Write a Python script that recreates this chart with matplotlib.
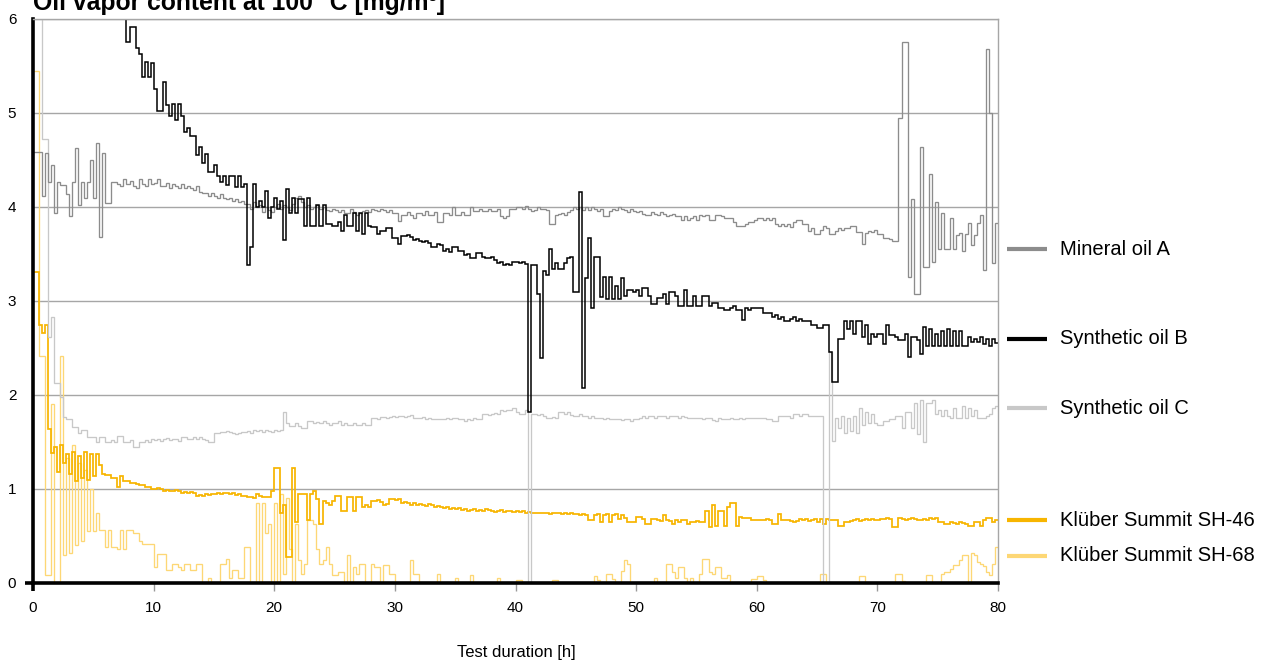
import numpy as np
import matplotlib
matplotlib.use('Agg')
import matplotlib.pyplot as plt

plt.rcParams['font.family'] = ['Liberation Sans', 'DejaVu Sans']

# readings every 0.25 h, 0..80 h (one row = 5 h)
step_h = 0.25

mineral_a = [
    4.58, 4.58, 4.58, 4.12, 4.57, 4.27, 4.45, 3.94, 4.27, 4.23, 4.23, 4.14, 3.90, 4.27, 4.63, 4.02, 4.27, 4.10, 4.27, 4.50,
    4.10, 4.68, 3.68, 4.57, 4.04, 4.04, 4.27, 4.27, 4.25, 4.22, 4.30, 4.25, 4.28, 4.22, 4.20, 4.30, 4.24, 4.22, 4.30, 4.24,
    4.26, 4.30, 4.22, 4.22, 4.26, 4.20, 4.25, 4.22, 4.20, 4.24, 4.20, 4.22, 4.20, 4.18, 4.22, 4.16, 4.15, 4.15, 4.12, 4.15,
    4.12, 4.10, 4.14, 4.10, 4.08, 4.10, 4.06, 4.08, 4.05, 4.06, 4.03, 4.03, 3.98, 4.05, 4.00, 4.02, 3.95, 4.00, 3.97, 3.95,
    4.00, 4.03, 3.98, 4.02, 4.00, 3.97, 4.03, 4.10, 4.12, 4.05, 4.00, 4.02, 3.98, 4.00, 4.02, 3.98, 4.00, 3.97, 3.96, 3.98,
    3.97, 3.95, 3.97, 3.94, 3.94, 3.98, 3.95, 3.92, 3.94, 3.96, 3.97, 3.95, 3.98, 3.97, 3.96, 3.98, 3.97, 3.95, 3.97, 3.94,
    3.94, 3.85, 3.92, 3.92, 3.95, 3.92, 3.88, 3.94, 3.94, 3.92, 3.96, 3.92, 3.92, 3.95, 3.84, 3.84, 3.94, 3.94, 3.92, 4.00,
    3.92, 3.92, 3.95, 3.92, 3.92, 4.00, 3.96, 3.96, 3.98, 3.96, 3.96, 3.98, 3.96, 3.96, 3.98, 3.90, 3.88, 3.90, 3.98, 3.98,
    4.00, 4.00, 3.98, 4.01, 3.98, 3.96, 3.97, 4.00, 3.98, 3.98, 3.97, 3.82, 3.82, 3.92, 3.93, 3.94, 3.92, 3.95, 3.97, 4.00,
    3.98, 4.00, 3.97, 4.00, 3.97, 4.00, 3.98, 3.96, 3.98, 3.90, 3.90, 3.96, 3.98, 3.97, 4.00, 3.98, 3.97, 3.95, 3.98, 3.96,
    3.95, 3.96, 3.93, 3.92, 3.92, 3.95, 3.93, 3.92, 3.95, 3.93, 3.90, 3.92, 3.93, 3.90, 3.90, 3.86, 3.90, 3.86, 3.88, 3.90,
    3.86, 3.92, 3.90, 3.92, 3.86, 3.86, 3.92, 3.92, 3.90, 3.88, 3.88, 3.88, 3.84, 3.80, 3.80, 3.80, 3.82, 3.84, 3.84, 3.86,
    3.88, 3.88, 3.86, 3.88, 3.86, 3.88, 3.82, 3.80, 3.82, 3.80, 3.82, 3.79, 3.84, 3.86, 3.86, 3.82, 3.82, 3.75, 3.78, 3.71,
    3.71, 3.76, 3.80, 3.78, 3.71, 3.71, 3.75, 3.78, 3.76, 3.78, 3.78, 3.80, 3.80, 3.73, 3.73, 3.61, 3.72, 3.75, 3.73, 3.76,
    3.71, 3.71, 3.67, 3.67, 3.66, 3.64, 3.64, 4.95, 5.76, 5.76, 3.26, 4.08, 3.07, 3.07, 4.64, 3.36, 3.36, 4.35, 3.42, 4.05,
    3.55, 3.94, 3.55, 3.55, 3.88, 3.55, 3.70, 3.72, 3.53, 3.71, 3.83, 3.60, 3.70, 3.83, 3.92, 3.33, 5.68, 5.00, 3.40, 3.83,
]

synthetic_b = [
    6.50, 6.50, 6.50, 6.50, 6.50, 6.50, 6.50, 6.50, 6.50, 6.50, 6.50, 6.50, 6.50, 6.50, 6.50, 6.50, 6.50, 6.50, 6.50, 6.50,
    6.50, 6.50, 6.50, 6.50, 6.50, 6.50, 6.50, 6.50, 6.50, 6.50, 6.50, 5.76, 5.91, 5.91, 5.69, 5.63, 5.38, 5.54, 5.38, 5.53,
    5.26, 5.02, 5.02, 5.33, 5.09, 4.97, 5.10, 4.93, 5.10, 4.97, 4.80, 4.84, 4.76, 4.76, 4.55, 4.64, 4.47, 4.56, 4.37, 4.37,
    4.45, 4.33, 4.27, 4.33, 4.23, 4.33, 4.33, 4.21, 4.33, 4.21, 4.25, 3.38, 3.57, 4.25, 4.00, 4.06, 4.00, 4.17, 3.88, 4.00,
    4.10, 3.98, 4.06, 3.65, 4.19, 3.94, 4.10, 3.94, 4.08, 4.08, 3.80, 4.10, 3.80, 3.80, 4.02, 3.80, 4.02, 3.82, 3.82, 3.80,
    3.80, 3.84, 3.75, 3.92, 3.80, 3.80, 3.94, 3.75, 3.94, 3.71, 3.94, 3.80, 3.79, 3.79, 3.71, 3.75, 3.75, 3.78, 3.78, 3.67,
    3.67, 3.61, 3.69, 3.69, 3.70, 3.68, 3.65, 3.66, 3.64, 3.63, 3.64, 3.62, 3.57, 3.57, 3.61, 3.60, 3.53, 3.55, 3.52, 3.57,
    3.57, 3.53, 3.53, 3.49, 3.50, 3.46, 3.46, 3.51, 3.51, 3.47, 3.46, 3.46, 3.47, 3.44, 3.40, 3.41, 3.38, 3.39, 3.38, 3.42,
    3.42, 3.40, 3.41, 3.39, 1.82, 3.38, 3.38, 3.07, 2.39, 3.32, 3.28, 3.55, 3.34, 3.40, 3.34, 3.34, 3.40, 3.46, 3.47, 3.10,
    3.10, 4.16, 2.07, 3.24, 3.67, 2.93, 3.47, 3.47, 3.04, 3.26, 3.02, 3.26, 3.02, 3.16, 3.02, 3.24, 3.05, 3.12, 3.12, 3.10,
    3.12, 3.05, 3.14, 3.14, 3.05, 2.97, 2.97, 3.03, 3.03, 3.07, 2.97, 3.10, 3.10, 3.05, 2.95, 2.95, 3.12, 2.95, 2.95, 3.05,
    2.95, 2.95, 3.05, 3.05, 2.95, 2.98, 2.98, 2.93, 2.93, 2.90, 2.90, 2.93, 2.95, 2.90, 2.90, 2.80, 2.93, 2.90, 2.93, 2.93,
    2.93, 2.93, 2.87, 2.87, 2.87, 2.83, 2.85, 2.81, 2.83, 2.79, 2.79, 2.81, 2.83, 2.79, 2.81, 2.79, 2.79, 2.79, 2.75, 2.75,
    2.71, 2.71, 2.75, 2.74, 2.46, 2.14, 2.14, 2.60, 2.60, 2.79, 2.70, 2.79, 2.65, 2.79, 2.79, 2.62, 2.75, 2.54, 2.65, 2.62,
    2.65, 2.65, 2.54, 2.74, 2.64, 2.64, 2.62, 2.58, 2.58, 2.65, 2.40, 2.62, 2.62, 2.58, 2.44, 2.72, 2.52, 2.70, 2.52, 2.65,
    2.52, 2.68, 2.52, 2.70, 2.52, 2.68, 2.52, 2.68, 2.52, 2.52, 2.62, 2.56, 2.60, 2.56, 2.62, 2.54, 2.60, 2.52, 2.60, 2.55,
]

synthetic_c = [
    6.50, 6.50, 6.50, 4.72, 4.72, 2.62, 2.83, 2.13, 2.13, 1.98, 1.77, 1.75, 1.75, 1.66, 1.66, 1.60, 1.63, 1.63, 1.55, 1.55,
    1.55, 1.50, 1.55, 1.55, 1.50, 1.50, 1.52, 1.50, 1.56, 1.56, 1.50, 1.50, 1.52, 1.45, 1.45, 1.50, 1.50, 1.52, 1.50, 1.53,
    1.52, 1.53, 1.51, 1.53, 1.54, 1.52, 1.53, 1.53, 1.51, 1.55, 1.55, 1.53, 1.53, 1.55, 1.53, 1.55, 1.53, 1.52, 1.50, 1.50,
    1.60, 1.60, 1.61, 1.61, 1.62, 1.61, 1.60, 1.58, 1.60, 1.61, 1.61, 1.62, 1.60, 1.63, 1.62, 1.63, 1.61, 1.63, 1.62, 1.61,
    1.63, 1.62, 1.63, 1.82, 1.70, 1.67, 1.67, 1.70, 1.67, 1.65, 1.65, 1.72, 1.72, 1.70, 1.71, 1.70, 1.72, 1.70, 1.68, 1.70,
    1.70, 1.72, 1.68, 1.70, 1.68, 1.68, 1.70, 1.68, 1.68, 1.70, 1.68, 1.68, 1.76, 1.76, 1.75, 1.77, 1.77, 1.76, 1.77, 1.78,
    1.77, 1.78, 1.78, 1.77, 1.78, 1.79, 1.76, 1.76, 1.76, 1.77, 1.75, 1.76, 1.74, 1.74, 1.75, 1.74, 1.74, 1.76, 1.74, 1.76,
    1.76, 1.75, 1.74, 1.72, 1.74, 1.73, 1.76, 1.74, 1.74, 1.80, 1.80, 1.79, 1.80, 1.81, 1.80, 1.84, 1.83, 1.84, 1.84, 1.86,
    1.82, 1.80, 1.80, 1.84, 0.00, 1.80, 1.80, 1.79, 1.80, 1.78, 1.76, 1.76, 1.77, 1.76, 1.82, 1.82, 1.80, 1.82, 1.79, 1.78,
    1.78, 1.80, 1.78, 1.78, 1.76, 1.78, 1.76, 1.76, 1.76, 1.75, 1.76, 1.74, 1.74, 1.74, 1.74, 1.73, 1.74, 1.74, 1.72, 1.74,
    1.74, 1.76, 1.78, 1.76, 1.78, 1.78, 1.76, 1.78, 1.78, 1.78, 1.76, 1.78, 1.78, 1.78, 1.76, 1.78, 1.77, 1.76, 1.76, 1.76,
    1.76, 1.76, 1.74, 1.76, 1.76, 1.73, 1.72, 1.76, 1.75, 1.74, 1.74, 1.76, 1.74, 1.74, 1.76, 1.74, 1.76, 1.76, 1.76, 1.76,
    1.76, 1.76, 1.76, 1.74, 1.74, 1.72, 1.72, 1.78, 1.78, 1.78, 1.78, 1.76, 1.80, 1.80, 1.78, 1.80, 1.80, 1.78, 1.78, 1.78,
    1.78, 1.78, 0.00, 0.00, 2.46, 1.51, 1.76, 1.65, 1.78, 1.60, 1.76, 1.62, 1.78, 1.60, 1.86, 1.68, 1.82, 1.70, 1.80, 1.70,
    1.68, 1.68, 1.72, 1.72, 1.74, 1.74, 1.78, 1.78, 1.65, 1.82, 1.82, 1.65, 1.92, 1.59, 1.95, 1.50, 1.92, 1.92, 1.95, 1.80,
    1.84, 1.78, 1.84, 1.78, 1.76, 1.86, 1.76, 1.76, 1.88, 1.76, 1.86, 1.78, 1.84, 1.76, 1.76, 1.76, 1.78, 1.80, 1.86, 1.88,
]

summit_sh46 = [
    3.31, 3.31, 2.75, 2.66, 2.74, 1.64, 1.38, 1.45, 1.18, 1.47, 1.28, 1.37, 1.16, 1.39, 1.08, 1.35, 1.12, 1.39, 1.10, 1.37,
    1.14, 1.37, 1.26, 1.16, 1.15, 1.15, 1.12, 1.12, 1.02, 1.14, 1.08, 1.08, 1.06, 1.06, 1.05, 1.04, 1.04, 1.02, 1.02, 1.00,
    1.00, 1.01, 1.00, 0.98, 0.99, 0.98, 0.98, 0.99, 0.98, 0.96, 0.97, 0.96, 0.97, 0.96, 0.93, 0.94, 0.93, 0.95, 0.94, 0.95,
    0.95, 0.96, 0.95, 0.96, 0.96, 0.95, 0.96, 0.94, 0.95, 0.93, 0.93, 0.91, 0.91, 0.90, 0.95, 0.93, 0.91, 0.91, 0.92, 0.98,
    1.22, 1.22, 0.75, 0.83, 0.28, 0.28, 1.22, 0.65, 0.95, 0.95, 0.95, 0.67, 0.95, 0.98, 0.89, 0.63, 0.87, 0.85, 0.83, 0.87,
    0.93, 0.93, 0.77, 0.77, 0.91, 0.91, 0.77, 0.91, 0.91, 0.81, 0.83, 0.81, 0.87, 0.87, 0.88, 0.86, 0.83, 0.84, 0.89, 0.89,
    0.88, 0.89, 0.85, 0.86, 0.85, 0.83, 0.85, 0.83, 0.84, 0.83, 0.82, 0.84, 0.83, 0.81, 0.82, 0.81, 0.80, 0.81, 0.79, 0.80,
    0.79, 0.80, 0.78, 0.79, 0.77, 0.78, 0.79, 0.77, 0.78, 0.77, 0.79, 0.78, 0.77, 0.76, 0.77, 0.78, 0.76, 0.77, 0.77, 0.76,
    0.77, 0.76, 0.77, 0.75, 0.76, 0.75, 0.74, 0.75, 0.74, 0.75, 0.74, 0.73, 0.74, 0.75, 0.74, 0.73, 0.74, 0.73, 0.74, 0.73,
    0.73, 0.72, 0.73, 0.72, 0.67, 0.67, 0.72, 0.73, 0.65, 0.72, 0.73, 0.65, 0.72, 0.73, 0.68, 0.72, 0.69, 0.65, 0.65, 0.65,
    0.70, 0.70, 0.68, 0.63, 0.63, 0.68, 0.68, 0.67, 0.66, 0.72, 0.67, 0.66, 0.63, 0.67, 0.65, 0.67, 0.67, 0.63, 0.65, 0.65,
    0.66, 0.65, 0.65, 0.77, 0.60, 0.83, 0.61, 0.77, 0.77, 0.61, 0.81, 0.85, 0.85, 0.61, 0.70, 0.69, 0.69, 0.69, 0.67, 0.67,
    0.67, 0.67, 0.67, 0.68, 0.67, 0.63, 0.63, 0.73, 0.67, 0.67, 0.67, 0.66, 0.65, 0.66, 0.68, 0.67, 0.68, 0.66, 0.67, 0.68,
    0.65, 0.68, 0.63, 0.68, 0.67, 0.67, 0.67, 0.61, 0.61, 0.65, 0.65, 0.66, 0.67, 0.68, 0.66, 0.67, 0.68, 0.67, 0.68, 0.67,
    0.67, 0.68, 0.68, 0.69, 0.68, 0.60, 0.60, 0.69, 0.68, 0.67, 0.68, 0.69, 0.68, 0.67, 0.67, 0.68, 0.67, 0.69, 0.68, 0.69,
    0.65, 0.65, 0.63, 0.63, 0.65, 0.64, 0.63, 0.65, 0.64, 0.63, 0.61, 0.61, 0.65, 0.65, 0.61, 0.67, 0.69, 0.69, 0.65, 0.67,
]

summit_sh68 = [
    5.45, 5.45, 2.42, 2.42, 0.08, 0.08, 1.90, 0.00, 0.00, 2.42, 0.30, 1.33, 0.32, 1.47, 0.40, 1.28, 0.45, 1.20, 0.55, 1.00,
    0.55, 0.75, 0.56, 0.56, 0.38, 0.56, 0.38, 0.38, 0.36, 0.56, 0.36, 0.56, 0.56, 0.53, 0.53, 0.45, 0.42, 0.42, 0.42, 0.42,
    0.17, 0.31, 0.31, 0.31, 0.14, 0.14, 0.20, 0.20, 0.17, 0.14, 0.20, 0.20, 0.14, 0.14, 0.20, 0.20, 0.00, 0.00, 0.05, 0.00,
    0.00, 0.00, 0.20, 0.20, 0.26, 0.05, 0.14, 0.14, 0.05, 0.05, 0.38, 0.38, 0.00, 0.00, 0.85, 0.00, 0.85, 0.53, 0.63, 0.00,
    0.85, 0.00, 0.95, 0.10, 0.90, 0.36, 0.00, 0.63, 0.25, 0.10, 0.20, 0.67, 0.67, 0.63, 0.36, 0.20, 0.25, 0.38, 0.20, 0.09,
    0.09, 0.12, 0.12, 0.00, 0.30, 0.00, 0.17, 0.10, 0.20, 0.20, 0.00, 0.00, 0.20, 0.17, 0.17, 0.00, 0.19, 0.19, 0.10, 0.10,
    0.00, 0.00, 0.00, 0.00, 0.00, 0.25, 0.10, 0.10, 0.00, 0.00, 0.00, 0.00, 0.00, 0.00, 0.10, 0.00, 0.00, 0.00, 0.00, 0.00,
    0.05, 0.00, 0.00, 0.00, 0.00, 0.09, 0.00, 0.00, 0.00, 0.00, 0.00, 0.00, 0.00, 0.00, 0.05, 0.00, 0.00, 0.00, 0.00, 0.00,
    0.03, 0.03, 0.00, 0.00, 0.00, 0.00, 0.00, 0.00, 0.00, 0.00, 0.00, 0.00, 0.03, 0.03, 0.00, 0.00, 0.00, 0.00, 0.00, 0.00,
    0.00, 0.00, 0.00, 0.00, 0.00, 0.00, 0.07, 0.03, 0.00, 0.00, 0.10, 0.10, 0.04, 0.00, 0.00, 0.13, 0.25, 0.20, 0.00, 0.00,
    0.00, 0.00, 0.00, 0.00, 0.00, 0.00, 0.05, 0.00, 0.00, 0.00, 0.20, 0.20, 0.12, 0.05, 0.17, 0.17, 0.05, 0.00, 0.05, 0.00,
    0.00, 0.10, 0.26, 0.26, 0.12, 0.10, 0.17, 0.17, 0.05, 0.05, 0.09, 0.00, 0.00, 0.00, 0.00, 0.00, 0.00, 0.00, 0.04, 0.04,
    0.07, 0.07, 0.03, 0.00, 0.00, 0.00, 0.00, 0.00, 0.00, 0.00, 0.00, 0.00, 0.00, 0.00, 0.00, 0.00, 0.00, 0.00, 0.00, 0.00,
    0.00, 0.10, 0.10, 0.00, 0.00, 0.00, 0.00, 0.00, 0.00, 0.00, 0.00, 0.00, 0.00, 0.00, 0.07, 0.07, 0.00, 0.00, 0.00, 0.00,
    0.00, 0.00, 0.00, 0.00, 0.00, 0.00, 0.10, 0.10, 0.02, 0.00, 0.00, 0.00, 0.00, 0.00, 0.00, 0.00, 0.09, 0.09, 0.00, 0.00,
    0.00, 0.10, 0.12, 0.12, 0.15, 0.19, 0.19, 0.24, 0.30, 0.30, 0.00, 0.32, 0.30, 0.22, 0.20, 0.18, 0.12, 0.09, 0.20, 0.38,
]

names = ['Mineral oil A', 'Synthetic oil B', 'Synthetic oil C',
         'Klüber Summit SH-46', 'Klüber Summit SH-68']
series = [mineral_a, synthetic_b, synthetic_c, summit_sh46, summit_sh68]
colors = ['#8c8c8c', '#000000', '#c8c8c8', '#f7b500', '#fdd775']
widths = [0.95, 1.1, 0.95, 1.25, 0.95]
draw_order = [4, 3, 2, 0, 1]
# legend rows sit next to the right edge, at these heights (data units)
legend_y = [3.55, 2.60, 1.86, 0.67, 0.29]

fig = plt.figure(figsize=(12.68, 6.62), dpi=100)
ax = fig.add_axes([33 / 1268, 79 / 662, 965 / 1268, 564 / 662])

for i in draw_order:
    vals = series[i]
    assert len(vals) == 320, (names[i], len(vals))
    edges = np.arange(len(vals) + 1) * step_h
    ax.stairs(vals, edges, baseline=None, color=colors[i], lw=widths[i])

ax.set_xlim(0, 80)
ax.set_ylim(0, 6)
ax.set_xticks(range(0, 81, 10))
ax.set_yticks(range(0, 7))
ax.yaxis.grid(True, color='#a6a6a6', lw=1)
ax.set_axisbelow(True)

for side in ['top', 'right']:
    ax.spines[side].set_color('#a6a6a6')
    ax.spines[side].set_linewidth(1)
for side in ['left', 'bottom']:
    ax.spines[side].set_color('black')
    ax.spines[side].set_linewidth(2.6)
    ax.spines[side].set_capstyle('projecting')

ax.tick_params(axis='x', length=6, width=1, color='#999999', pad=7, labelsize=11)
ax.tick_params(axis='y', length=6, width=2.6, color='black', pad=6, labelsize=11)
# only the origin gets the heavy black cross marks
xt = ax.xaxis.get_major_ticks()
xt[0].tick1line.set_markeredgecolor('black')
xt[0].tick1line.set_markeredgewidth(2.6)
for t in ax.yaxis.get_major_ticks()[1:]:
    t.tick1line.set_visible(False)

for name, color, y in zip(names, colors, legend_y):
    ax.plot([80.75, 84.1], [y, y], color=color, lw=3, clip_on=False,
            solid_capstyle='butt')
    ax.text(85.1, y, name, va='center', ha='left', fontsize=14.5, clip_on=False)

fig.text(33 / 1268, 1 - 10 / 662, 'Oil vapor content at 100 °C [mg/m³]',
         fontsize=17.8, fontweight='bold', ha='left', va='baseline')
fig.text(516 / 1268, 1 - 652 / 662, 'Test duration [h]', fontsize=12,
         ha='center', va='center')

fig.savefig('out.png', dpi=100)
